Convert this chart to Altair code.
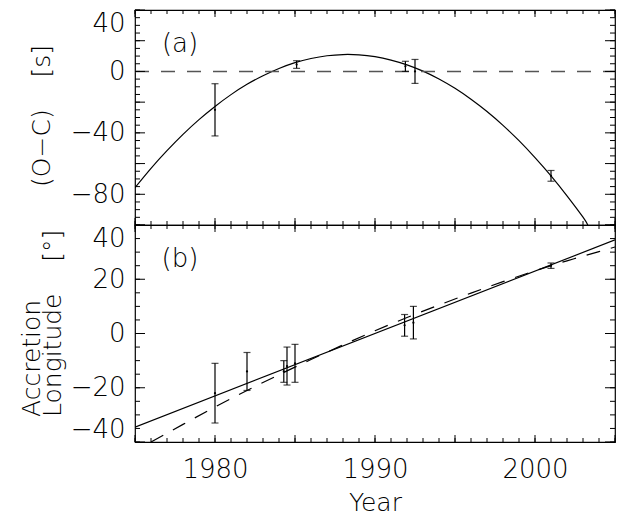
import altair as alt
import pandas as pd

# ---------------- data ----------------
# panel (a): O-C residuals
curve_year = [1975, 1976, 1977, 1978, 1979, 1980, 1981, 1982, 1983, 1984, 1985, 1986,
              1987, 1988, 1989, 1990, 1991, 1992, 1993, 1994, 1995, 1996, 1997, 1998,
              1999, 2000, 2001, 2002, 2003, 2003.3]
curve_oc = [-75.7, -63.1, -51.6, -41.0, -31.4, -22.8, -15.1, -8.4, -2.8, 1.9, 5.7, 8.4,
            10.2, 11.0, 10.8, 9.6, 7.4, 4.3, 0.2, -4.9, -11.0, -18.1, -26.1, -35.1,
            -45.1, -56.1, -68.0, -81.0, -94.9, -100.0]
zero_year = [1975, 2005]
zero_oc = [0, 0]
oc_year = [1980.0, 1985.1, 1991.9, 1992.5, 2001.0]
oc_val = [-25.0, 4.5, 3.3, 0.0, -68.0]
oc_err = [17.0, 2.5, 3.3, 7.8, 3.5]

# panel (b): accretion longitude
lon_year = [1980.0, 1982.0, 1984.3, 1984.5, 1985.0, 1991.85, 1992.4, 2001.0]
lon_val = [-22.0, -14.0, -14.0, -12.0, -11.0, 3.0, 4.0, 25.0]
lon_err = [11.0, 7.0, 4.0, 7.0, 7.0, 4.0, 6.0, 1.0]
lin_year = [1975, 2005]
lin_val = [-34.5, 34.5]
dash_year = [1976, 1978, 1980, 1982, 1984, 1986, 1988, 1990, 1992, 1994, 1996, 1998,
             2000, 2002, 2004, 2005]
dash_val = [-40.0, -33.5, -27.1, -21.0, -15.2, -9.6, -4.2, 1.0, 5.9, 10.5, 14.9, 19.1,
            23.1, 26.8, 30.2, 31.9]

# ticks / labels
x_labels = [1980, 1990, 2000]
x_major = list(range(1975, 2006, 5))
x_minor = list(range(1975, 2006, 1))
oc_labels = [40, 0, -40, -80]
oc_major = list(range(-100, 41, 20))
oc_minor = list(range(-100, 41, 5))
lon_labels = [40, 20, 0, -20, -40]
lon_major = list(range(-40, 41, 20))
lon_minor = list(range(-40, 41, 5))

NB = "\u00a0"
title_a = "(O\u2212C)" + NB * 4 + "[s]"
title_b = "Accretion\nLongitude" + NB * 4 + "[\u00b0]"

# ---------------- styling ----------------
FONT = "DejaVu Sans"
FW = 200
FS = 26
TFS = 25
W = 480
H1 = 215
H2 = 217
XMAJ, XMIN, YMAJ, YMIN = 7, 4, 10, 5
XDOM = [1975, 2005]

xs = alt.Scale(domain=XDOM, nice=False, zero=False)


def x_tick_df(H, ydom):
    upp = (ydom[1] - ydom[0]) / H
    rows = []
    for vals, ln in ((x_major, XMAJ), (x_minor, XMIN)):
        for v in vals:
            rows.append({"year": v, "a": ydom[0], "b": ydom[0] + ln * upp})
            rows.append({"year": v, "a": ydom[1], "b": ydom[1] - ln * upp})
    return pd.DataFrame(rows)


def y_tick_df(major, minor):
    upp = (XDOM[1] - XDOM[0]) / W
    rows = []
    for vals, ln in ((major, YMAJ), (minor, YMIN)):
        for v in vals:
            rows.append({"v": v, "a": XDOM[0], "b": XDOM[0] + ln * upp})
            rows.append({"v": v, "a": XDOM[1], "b": XDOM[1] - ln * upp})
    return pd.DataFrame(rows)


def panel(H, ydom, yaxis, ymajor, yminor, ytitle, tx, ty, talign,
          line_df, line_field, dash_df, dash_field, dash_style, dash_color, dash_w,
          pts_df, label_text, xaxis):
    ys = alt.Scale(domain=ydom, nice=False, zero=False)
    X = lambda f: alt.X(f"{f}:Q", scale=xs, axis=xaxis)
    Y = lambda f: alt.Y(f"{f}:Q", scale=ys, axis=yaxis)
    layers = [
        alt.Chart(line_df).mark_line(color="black", strokeWidth=1.2, interpolate="natural",
                                     clip=True).encode(x=X("year"), y=Y(line_field)),
        alt.Chart(dash_df).mark_line(color=dash_color, strokeWidth=dash_w,
                                     strokeDash=dash_style, clip=True,
                                     interpolate="natural").encode(x=X("year"), y=Y(dash_field)),
        alt.Chart(pts_df).mark_rule(color="black", strokeWidth=1.2).encode(
            x=X("year"), y=Y("lo"), y2="hi:Q"),
        alt.Chart(pts_df).mark_tick(color="black", thickness=1.2, size=7,
                                    orient="horizontal").encode(x=X("year"), y=Y("lo")),
        alt.Chart(pts_df).mark_tick(color="black", thickness=1.2, size=7,
                                    orient="horizontal").encode(x=X("year"), y=Y("hi")),
        alt.Chart(pts_df).mark_circle(color="black", size=5, opacity=1).encode(
            x=X("year"), y=Y("val")),
        # inward tick marks on all four sides
        alt.Chart(x_tick_df(H, ydom)).mark_rule(color="black", strokeWidth=1).encode(
            x=X("year"), y=Y("a"), y2="b:Q"),
        alt.Chart(y_tick_df(ymajor, yminor)).mark_rule(color="black", strokeWidth=1).encode(
            y=Y("v"), x=X("a"), x2="b:Q"),
        alt.Chart(pd.DataFrame({"lab": [label_text]})).mark_text(
            font=FONT, fontSize=26, fontWeight=FW, color="black", align="center",
            baseline="middle").encode(text="lab:N", x=alt.value(45), y=alt.value(34)),
        alt.Chart(pd.DataFrame({"lab": [ytitle]})).mark_text(
            font=FONT, fontSize=TFS, fontWeight=FW, color="black", align=talign,
            baseline="middle", angle=270, lineBreak="\n", lineHeight=21).encode(
            text="lab:N", x=alt.value(tx), y=alt.value(ty)),
    ]
    return alt.layer(*layers).properties(width=W, height=H)


def yaxis(values):
    return alt.Axis(values=values, orient="left", tickSize=0, tickColor="transparent",
                    domain=False, grid=False, labelPadding=10, labelFlush=True, title=None,
                    labelFontSize=FS, labelFont=FONT, labelFontWeight=FW, labelColor="black")


curve_df = pd.DataFrame({"year": curve_year, "oc": curve_oc})
zero_df = pd.DataFrame({"year": zero_year, "oc": zero_oc})
oc_df = pd.DataFrame({"year": oc_year, "val": oc_val,
                      "lo": [v - e for v, e in zip(oc_val, oc_err)],
                      "hi": [v + e for v, e in zip(oc_val, oc_err)]})
lin_df = pd.DataFrame({"year": lin_year, "lon": lin_val})
dash_df = pd.DataFrame({"year": dash_year, "lon": dash_val})
lon_df = pd.DataFrame({"year": lon_year, "val": lon_val,
                       "lo": [v - e for v, e in zip(lon_val, lon_err)],
                       "hi": [v + e for v, e in zip(lon_val, lon_err)]})

top = panel(H1, [-100, 40], yaxis(oc_labels), oc_major, oc_minor, title_a, -93, 106, "center",
            curve_df, "oc", zero_df, "oc", [14, 12], "#555555", 1.4,
            oc_df, "(a)", None)

xlab_axis = alt.Axis(values=x_labels, orient="bottom", tickSize=0, tickColor="transparent",
                     domain=False, grid=False, format="d", labelPadding=14,
                     labelFontSize=FS, labelFont=FONT, labelFontWeight=FW, labelColor="black",
                     title="Year", titleFont=FONT, titleFontSize=TFS, titleFontWeight=FW,
                     titleColor="black", titleY=48, titleBaseline="top")
bottom = panel(H2, [-40, 40], yaxis(lon_labels), lon_major, lon_minor, title_b, -103.5, 192,
               "left", lin_df, "lon", dash_df, "lon", [14, 11], "black", 1.2,
               lon_df, "(b)", xlab_axis)

chart = alt.vconcat(top, bottom, spacing=0, bounds="flush").properties(
    padding={"left": 10, "top": 0, "right": 5, "bottom": 5}
).configure_view(stroke="black", strokeWidth=1.2)

chart.save("out.html", embed_options={"renderer": "svg", "actions": False})
